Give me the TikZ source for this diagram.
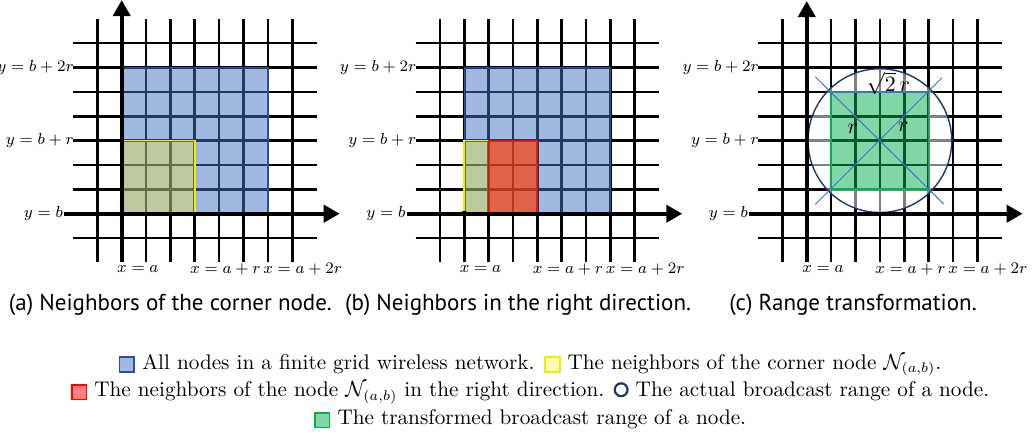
\documentclass[tikz,border=0pt]{standalone}
\usepackage{fontspec}
\usetikzlibrary{arrows.meta}
\newfontfamily\capfont{PT Sans}
\definecolor{netblue}{RGB}{68,114,196}
\definecolor{netborder}{RGB}{47,82,143}
\definecolor{edgeyellow}{RGB}{240,235,0}
\definecolor{rangegreen}{RGB}{0,176,80}
\definecolor{rangenavy}{RGB}{31,56,100}
\newcommand{\legbox}[2]{{\setlength{\fboxrule}{0.9pt}\setlength{\fboxsep}{0pt}\raisebox{-0.8pt}{\fcolorbox{#1}{#2}{\rule{0pt}{6.5pt}\rule{6.5pt}{0pt}}}}}
\newcommand{\legring}{\tikz[baseline=0pt]\draw[rangenavy,line width=1.1pt] (0,3.6pt) circle (3.2pt);}
\tikzset{
  gridline/.style={line width=1.3pt},
  axisline/.style={line width=2pt,-{Triangle[length=8pt,width=8.5pt]}},
  bluearea/.style={fill=netblue,fill opacity=0.5,draw=netborder,line width=0.7pt},
  yellowarea/.style={fill=yellow,fill opacity=0.3,draw=edgeyellow,line width=0.8pt},
  redarea/.style={fill=red,fill opacity=0.5,draw=red,line width=0.8pt},
  greenarea/.style={fill=rangegreen,fill opacity=0.5,draw=rangegreen,line width=0.9pt},
  lbl/.style={font=\fontsize{8.4}{10}\selectfont,inner sep=0pt},
  rlbl/.style={font=\fontsize{11}{13}\selectfont,inner sep=0pt},
  capt/.style={font=\capfont\fontsize{11.5}{13}\selectfont,inner sep=0pt,anchor=base},
  legend/.style={font=\fontsize{10.6}{12}\selectfont,inner sep=0pt,anchor=base},
}
\begin{document}
\begin{tikzpicture}[x=12.18pt,y=12.18pt]
    \useasboundingbox (-4.996,-9.249) rectangle (37.53,8.773);
    % the three grids with their labels
    \foreach \s/\p in {0/a,14.06/b,28.12/c}{
        \begin{scope}[shift={(\s,0)}]
            \foreach \i in {-1,...,7}{
                \draw [gridline] (\i,-2) -- (\i,8);
                \draw [gridline] (-2,\i) -- (8,\i);
            }
            \node [lbl,anchor=east] (ytwo-\p) at (-1.95,6) {$y=b+2r$};
            \node [lbl,anchor=east] (yone-\p) at (-1.95,3) {$y=b+r$};
            \node [lbl,anchor=east] (yzero-\p) at (-2.4,0) {$y=b$};
            \node [lbl,anchor=west] (xzero-\p) at (-0.2,-2.27) {$x=a$};
            \node [lbl,anchor=west] (xone-\p) at (2.8,-2.27) {$x=a+r$};
            \node [lbl,anchor=west] (xtwo-\p) at (5.8,-2.27) {$x=a+2r$};
        \end{scope}
    }
    % (a) corner node
    \draw [bluearea] (0,0) rectangle (6,6);
    \draw [yellowarea] (0,0) rectangle (3,3);
    \draw [axisline] (-2.36,0) -- (8.95,0);
    \draw [axisline] (0,-2) -- (0,8.77);
    \fill (0,0) circle (1.5pt);
    % (b) right direction
    \begin{scope}[shift={(14.06,0)}]
        \draw [bluearea] (0,0) rectangle (6,6);
        \draw [yellowarea] (0,0) rectangle (3,3);
        \draw [redarea] (1,0) rectangle (3,3);
        \draw [axisline] (-2.36,0) -- (8.95,0);
        \fill (0,0) circle (1.5pt);
    \end{scope}
    % (c) range transformation
    \begin{scope}[shift={(28.12,0)}]
        \fill [white,fill opacity=0.5,even odd rule] (3,3) circle (2.95) (1,1) rectangle (5,5);
        \draw [rangenavy,line width=0.7pt] (3,3) circle (2.95);
        \draw [greenarea] (1,1) rectangle (5,5);
        \draw [netblue,line width=0.5pt] (0.35,5.62) -- (5.62,0.4);
        \draw [netblue,line width=0.5pt] (0.35,0.38) -- (5.55,5.58);
        \draw [netblue,line width=0.7pt] (1,5) -- (5,5);
        \node [rlbl] (diag) at (3.35,5.35) {$\sqrt{2}\,r$};
        \node [rlbl] (rleft) at (1.89,3.5) {$r$};
        \node [rlbl] (rright) at (3.97,3.55) {$r$};
        \draw [axisline] (-2.36,0) -- (8.86,0);
        \draw [axisline] (0,-2) -- (0,8.73);
    \end{scope}
    % captions
    \node [capt] (capa) at (2.0,-3.98) {(a) Neighbors of the corner node.};
    \node [capt] (capb) at (16.27,-3.98) {(b) Neighbors in the right direction.};
    \node [capt] (capc) at (30.02,-3.98) {(c) Range transformation.};
    % legend
    \node [legend] (legone) at (16.76,-6.38) {\legbox{netborder}{netblue!50} All nodes in a finite grid wireless network. \legbox{edgeyellow}{yellow!30} The neighbors of the corner node $\mathcal{N}_{(a,b)}$.};
    \node [legend] (legtwo) at (16.76,-7.52) {\legbox{red}{red!50} The neighbors of the node $\mathcal{N}_{(a,b)}$ in the right direction. \legring{} The actual broadcast range of a node.};
    \node [legend] (legthree) at (16.76,-8.67) {\legbox{rangegreen}{rangegreen!50} The transformed broadcast range of a node.};
\end{tikzpicture}
\end{document}
